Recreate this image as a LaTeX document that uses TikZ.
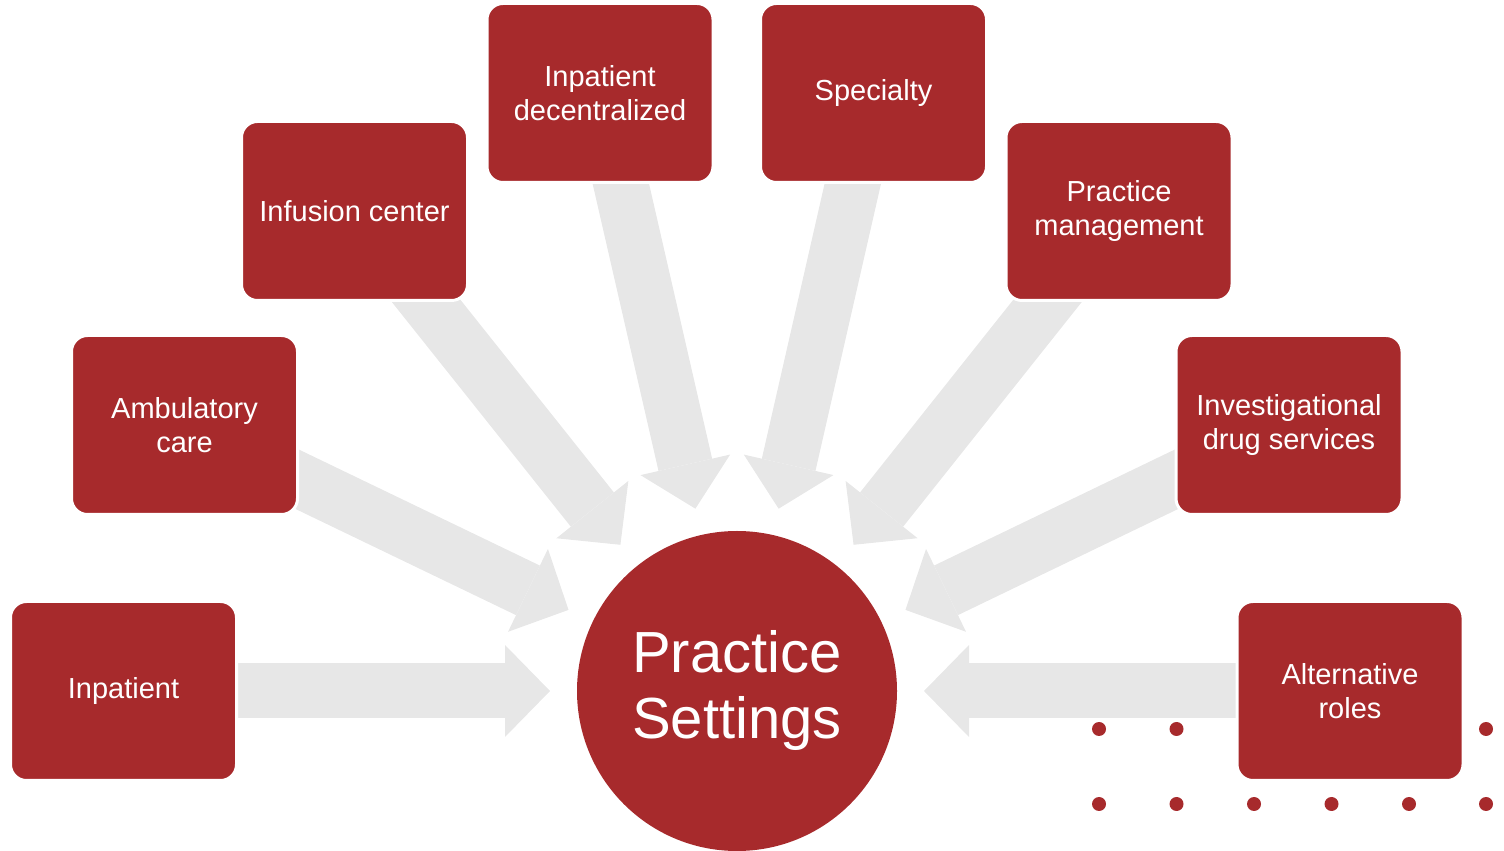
\documentclass[tikz,border=0pt]{standalone}
\usepackage{fontspec}
\setmainfont{Liberation Sans}
\usetikzlibrary{arrows.meta,calc}
\pgfdeclarelayer{bg}
\pgfsetlayers{bg,main}
\definecolor{boxred}{RGB}{167,42,44}
\definecolor{arrgray}{RGB}{231,231,231}
\tikzset{
 setbox/.style={fill=boxred, draw=white, line width=3pt, rounded corners=16pt,
   minimum width=226pt, minimum height=179pt, inner sep=0pt, text=white,
   align=center, font=\fontsize{29}{34}\selectfont},
 hub/.style={circle, fill=boxred, minimum size=320pt, inner sep=0pt, text=white,
   align=center, font=\fontsize{58}{66}\selectfont},
 bigarrow/.style={draw=arrgray, line width=55pt,
   -{Triangle[length=45pt,width=92pt,line width=0pt]}},
 reddot/.style={circle, fill=boxred, minimum size=14pt, inner sep=0pt}
}
\begin{document}
\begin{tikzpicture}[x=1pt,y=1pt]
\useasboundingbox (0,0) rectangle (1504,851);
\node[hub] (ps) at (737,160) {Practice\\Settings};
\node[setbox] (inp) at (123.5,160) {Inpatient};
\node[setbox] (amb) at (184.5,426) {Ambulatory\\care};
\node[setbox] (inf) at (354.5,640) {Infusion center};
\node[setbox] (dec) at (600,758) {Inpatient\\decentralized};
\node[setbox] (spe) at (873.5,758) {Specialty};
\node[setbox] (pm) at (1119,640) {Practice\\management};
\node[setbox] (ids) at (1289,426) {Investigational\\drug services};
\node[setbox] (alt) at (1350,160) {Alternative\\roles};
\coordinate (t1) at ($(ps.center)+(180:187pt)$);
\coordinate (t2) at ($(ps.center)+(154.29:187pt)$);
\coordinate (t3) at ($(ps.center)+(128.57:187pt)$);
\coordinate (t4) at ($(ps.center)+(102.86:187pt)$);
\coordinate (t5) at ($(ps.center)+(77.14:187pt)$);
\coordinate (t6) at ($(ps.center)+(51.43:187pt)$);
\coordinate (t7) at ($(ps.center)+(25.71:187pt)$);
\coordinate (t8) at ($(ps.center)+(0:187pt)$);
\begin{pgfonlayer}{bg}
\foreach \i/\x in {1/1099,2/1176.5,3/1254,4/1331.5,5/1409,6/1486}{
  \node[reddot] (da\i) at (\x,122) {};
  \node[reddot] (db\i) at (\x,47) {};
}
\draw[bigarrow] (inp.center) -- (t1);
\draw[bigarrow] (amb.center) -- (t2);
\draw[bigarrow] (inf.center) -- (t3);
\draw[bigarrow] (dec.center) -- (t4);
\draw[bigarrow] (spe.center) -- (t5);
\draw[bigarrow] (pm.center) -- (t6);
\draw[bigarrow] (ids.center) -- (t7);
\draw[bigarrow] (alt.center) -- (t8);
\end{pgfonlayer}
\end{tikzpicture}
\end{document}
